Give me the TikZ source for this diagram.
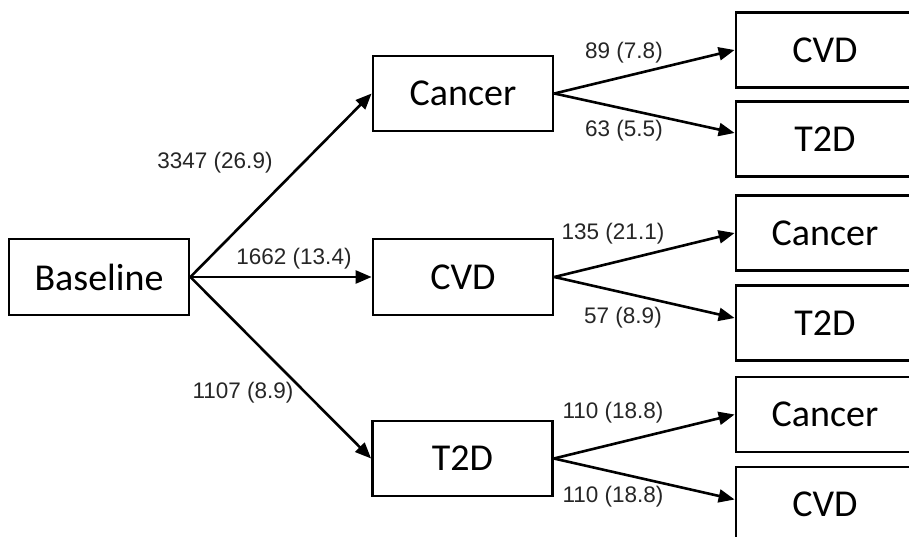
\documentclass[tikz,border=0pt]{standalone}
\usepackage{fontspec}
\setmainfont{Carlito}
\newfontfamily\labfont{Liberation Sans}
\usetikzlibrary{arrows.meta}
\begin{document}
\begin{tikzpicture}[x=1pt,y=-1pt,
  box/.style={draw=black,line width=2.8pt,minimum width=180pt,minimum height=76pt,inner sep=0pt,font=\fontsize{38}{42}\selectfont},
  rbox/.style={box,minimum width=178pt,minimum height=75pt},
  conn/.style={line width=2.6pt,-{Triangle[length=16pt,width=13pt]}},
  lab/.style={font=\labfont\fontsize{22.5}{24}\selectfont,text=black!85,inner sep=0pt}]
\useasboundingbox (0,0) rectangle (909,537);
\clip (0,0) rectangle (909,537);
\node[box] (base) at (99,277) {Baseline};
\node[box,minimum height=75pt] (canM) at (463,93.5) {Cancer};
\node[box] (cvdM) at (463,277) {CVD};
\node[box,minimum height=75pt] (t2dM) at (462.5,458.5) {T2D};
\node[rbox] (cvdA) at (825,50) {CVD};
\node[rbox] (t2dA) at (825,139) {T2D};
\node[rbox] (canB) at (825,233) {Cancer};
\node[rbox] (t2dB) at (825,323) {T2D};
\node[rbox] (canC) at (825,414.5) {Cancer};
\node[rbox] (cvdC) at (825,504.5) {CVD};
\draw[conn] (base.east) -- (canM.west);
\draw[conn] (base.east) -- (cvdM.west);
\draw[conn] (base.east) -- (t2dM.west);
\draw[conn] (canM.east) -- (cvdA.west);
\draw[conn] (canM.east) -- ([yshift=6pt]t2dA.west);
\draw[conn] (cvdM.east) -- (canB.west);
\draw[conn] (cvdM.east) -- ([yshift=5pt]t2dB.west);
\draw[conn] (t2dM.east) -- (canC.west);
\draw[conn] (t2dM.east) -- ([yshift=5pt]cvdC.west);
\node[lab] (l1) at (215,163) {3347 (26.9)};
\node[lab] (l2) at (294,259) {1662 (13.4)};
\node[lab] (l3) at (243,393) {1107 (8.9)};
\node[lab] (l4) at (624,53) {89 (7.8)};
\node[lab] (l5) at (624,131) {63 (5.5)};
\node[lab] (l6) at (613,234) {135 (21.1)};
\node[lab] (l7) at (623,318) {57 (8.9)};
\node[lab] (l8) at (613,413) {110 (18.8)};
\node[lab] (l9) at (613,497) {110 (18.8)};
\end{tikzpicture}
\end{document}
